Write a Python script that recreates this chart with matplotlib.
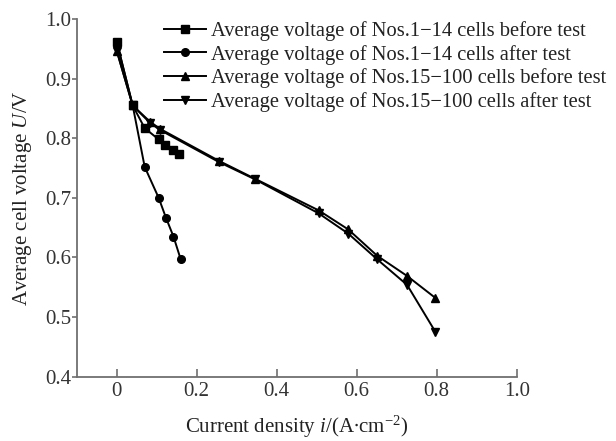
import matplotlib
matplotlib.use("Agg")
import matplotlib.pyplot as plt

plt.rcParams["font.family"] = ["Liberation Serif", "DejaVu Serif"]
plt.rcParams["mathtext.fontset"] = "custom"
plt.rcParams["mathtext.rm"] = "Liberation Serif"
plt.rcParams["mathtext.it"] = "Liberation Serif:italic"

# 数据
x_b14 = [0, 0.04, 0.07, 0.105, 0.122, 0.14, 0.157]
v_b14 = [0.962, 0.855, 0.817, 0.798, 0.789, 0.780, 0.773]

x_a14 = [0, 0.04, 0.07, 0.105, 0.123, 0.142, 0.16]
v_a14 = [0.962, 0.855, 0.752, 0.700, 0.667, 0.635, 0.597]

x_b100 = [0, 0.04, 0.083, 0.108, 0.256, 0.346, 0.505, 0.579, 0.651, 0.726, 0.797]
v_b100 = [0.947, 0.855, 0.828, 0.816, 0.762, 0.732, 0.679, 0.647, 0.603, 0.569, 0.532]

x_a100 = [0, 0.04, 0.083, 0.108, 0.256, 0.346, 0.505, 0.579, 0.651, 0.726, 0.797]
v_a100 = [0.947, 0.855, 0.826, 0.814, 0.760, 0.731, 0.674, 0.640, 0.597, 0.554, 0.475]

labels = [
    "Average voltage of Nos.1\u221214 cells before test",
    "Average voltage of Nos.1\u221214 cells after test",
    "Average voltage of Nos.15\u2212100 cells before test",
    "Average voltage of Nos.15\u2212100 cells after test",
]

fig = plt.figure(figsize=(6.16, 4.41), dpi=100)
ax = fig.add_axes([0.1245, 0.1458, 0.7143, 0.811])

style = dict(color="black", linewidth=1.4, markersize=5.5)
ax.plot(x_b14, v_b14, marker="s", label=labels[0], **style)
ax.plot(x_a14, v_a14, marker="o", label=labels[1], **style)
ax.plot(x_b100, v_b100, marker="^", label=labels[2], **style)
ax.plot(x_a100, v_a100, marker="v", label=labels[3], **style)

ax.set_xlim(-0.1, 1.0)
ax.set_ylim(0.4, 1.0)
ax.set_xticks([0, 0.2, 0.4, 0.6, 0.8, 1.0])
ax.set_xticklabels(["0", "0.2", "0.4", "0.6", "0.8", "1.0"])
ax.set_yticks([0.4, 0.5, 0.6, 0.7, 0.8, 0.9, 1.0])
ax.set_yticklabels(["0.4", "0.5", "0.6", "0.7", "0.8", "0.9", "1.0"])

for s in ["top", "right"]:
    ax.spines[s].set_visible(False)
for s in ["left", "bottom"]:
    ax.spines[s].set_color("#707070")
    ax.spines[s].set_linewidth(1.3)
ax.tick_params(axis="x", direction="in", length=6, width=1.2, color="#707070",
               labelsize=15, pad=4, labelcolor="#333333")
ax.tick_params(axis="y", direction="out", length=3.5, width=1.2, color="#707070",
               labelsize=15, pad=0.5, labelcolor="#333333")

ax.set_xlabel(r"Current density $i$/(A$\bullet$cm$^{-2}$)", fontsize=15,
              labelpad=9, color="#222222")
ax.set_ylabel(r"Average cell voltage $U$/V", fontsize=15, labelpad=8,
              color="#222222")

ax.legend(loc="upper left", bbox_to_anchor=(164 / 616, 1 - 21 / 441),
          bbox_transform=fig.transFigure, frameon=False, fontsize=14.8,
          handlelength=2.05, handletextpad=0.25, labelspacing=0.18,
          borderaxespad=0, borderpad=0, labelcolor="#222222")

fig.savefig("out.png", dpi=100)
